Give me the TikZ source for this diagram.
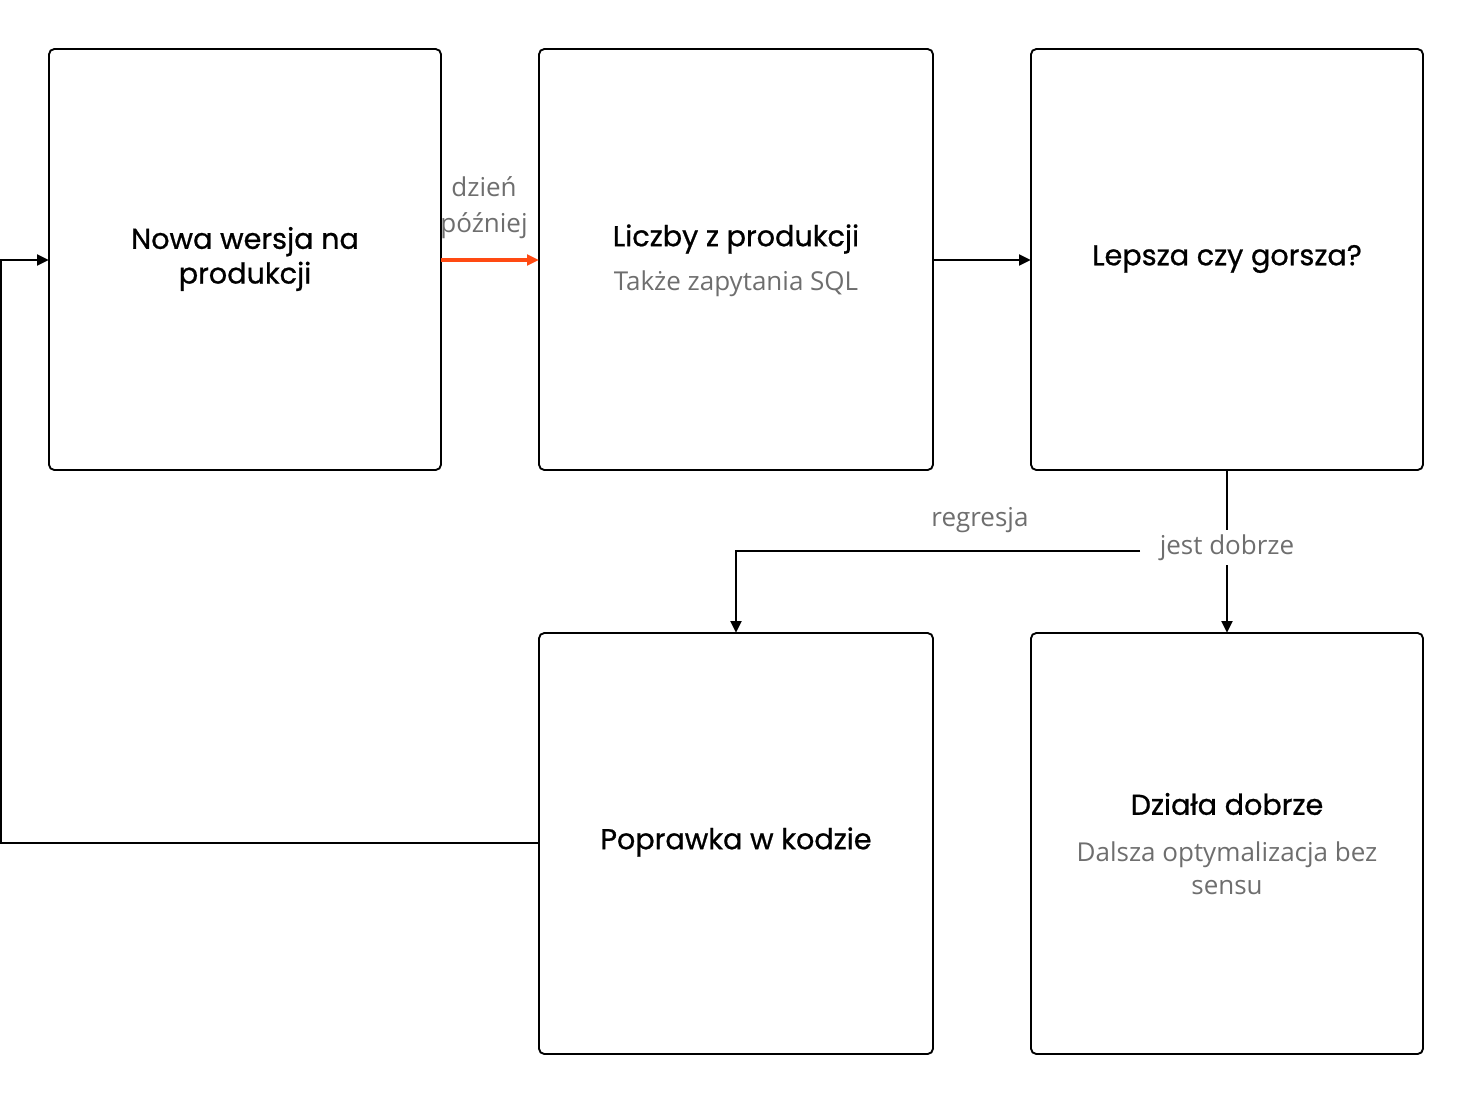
\documentclass[tikz,border=0pt]{standalone}
\usepackage{fontspec}
\setmainfont{Open Sans}
\newfontfamily\titlefont{Poppins}[FakeBold=0.8]
\usetikzlibrary{arrows.meta}
\definecolor{sub}{HTML}{6E6E6E}
\definecolor{org}{HTML}{FF4A12}
\begin{document}
\begin{tikzpicture}[x=0.75pt,y=-0.75pt,
 box/.style={draw,line width=1.4pt,rounded corners=4pt},
 ttl/.style={font=\titlefont\fontsize{21.5}{26}\selectfont,align=center},
 sb/.style={font=\fontsize{19.5}{25}\selectfont,text=sub,align=center},
 arr/.style={-{Triangle[length=9pt,width=8pt]}},
 lw/.style={line width=2.1pt},
 lbl/.style={font=\fontsize{19.5}{27}\selectfont,text=sub,align=center}]
\useasboundingbox (0,0) rectangle (1472,1104);
\draw[box] (49,49) rectangle (441,470);
\draw[box] (539,49) rectangle (933,470);
\draw[box] (1031,49) rectangle (1423,470);
\draw[box] (539,633) rectangle (933,1054);
\draw[box] (1031,633) rectangle (1423,1054);
\coordinate (Al) at (49,260); \coordinate (Ar) at (441,260);
\coordinate (Bl) at (539,260); \coordinate (Br) at (933,260);
\coordinate (Cl) at (1031,260); \coordinate (Cb) at (1227,470);
\coordinate (Et) at (1227,633); \coordinate (Dt) at (736,633);
\coordinate (Dl) at (539,843);
\node[ttl] (a) at (245,259) {Nowa wersja na\\produkcji};
\node[ttl] (b) at (736,239) {Liczby z produkcji};
\node[sb] (b2) at (736,284) {Także zapytania SQL};
\node[ttl] (c) at (1227,259) {Lepsza czy gorsza?};
\node[ttl] (d) at (736,842) {Poprawka w kodzie};
\node[ttl] (e) at (1227,804) {Działa dobrze};
\node[sb] (e2) at (1227,868) {Dalsza optymalizacja bez\\sensu};
\draw[arr,org,line width=2.6pt] (Ar) -- (Bl);
\node[lbl] (l1) at (484,208) {dzień\\później};
\draw[arr,lw] (Br) -- (Cl);
\draw[lw] (Cb) -- (1227,530);
\draw[arr,lw] (1227,565) -- (Et);
\node[lbl] (l2) at (1227,548) {jest dobrze};
\draw[arr,lw] (1140,551) -- (736,551) -- (Dt);
\node[lbl] (l3) at (980,520) {regresja};
\draw[arr,lw] (Dl) -- (1,843) -- (1,260) -- (Al);
\end{tikzpicture}
\end{document}
